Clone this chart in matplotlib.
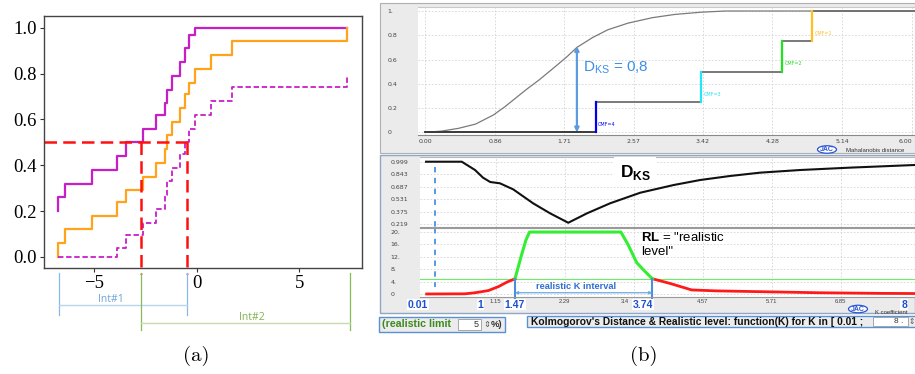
import matplotlib
matplotlib.use("Agg")
import matplotlib.pyplot as plt
from matplotlib.patches import Rectangle, Ellipse

plt.rcParams['mathtext.fontset'] = 'custom'
plt.rcParams['mathtext.rm'] = 'Liberation Sans'
plt.rcParams['mathtext.bf'] = 'Liberation Sans:bold'
plt.rcParams['axes.unicode_minus'] = True

# ---------------- data: panel (a) ----------------
a_steps_x = [-6.76, -6.44, -5.14, -3.89, -3.46, -2.65, -2.02, -1.58, -1.48,
             -1.22, -0.81, -0.57, -0.39, -0.11, 0.68, 1.72]
a_x_end = 7.32
orange_vals = [0.06, 0.12, 0.18, 0.24, 0.29, 0.35, 0.41, 0.47, 0.53, 0.59,
               0.65, 0.71, 0.76, 0.82, 0.88, 0.94]
orange_start, orange_end = 0.0, 1.0
upper_vals = [0.26, 0.32, 0.38, 0.44, 0.50, 0.56, 0.62, 0.67, 0.73, 0.79,
              0.85, 0.91, 0.97, 1.0, 1.0, 1.0]
upper_start, upper_end = 0.20, 1.0
lower_vals = [0.0, 0.0, 0.0, 0.04, 0.095, 0.15, 0.21, 0.27, 0.33, 0.39,
              0.45, 0.50, 0.56, 0.62, 0.68, 0.74]
lower_start, lower_end = 0.0, 0.79
median_level = 0.5
median_x = [-2.72, -0.5]
int1 = [-6.72, -0.5]
int2 = [-2.72, 7.46]
a_xticks = [-5, 0, 5]
a_yticks = [0.0, 0.2, 0.4, 0.6, 0.8, 1.0]

# ---------------- data: panel (b) top ----------------
mah_x = [0.0, 0.2, 0.41, 0.62, 0.84, 0.98, 1.11, 1.25, 1.40, 1.60, 1.75, 1.87,
         2.06, 2.25, 2.50, 2.80, 3.08, 3.40, 3.70, 6.05]
mah_y = [0.0, 0.01, 0.033, 0.068, 0.143, 0.21, 0.28, 0.355, 0.43, 0.54, 0.625,
         0.70, 0.78, 0.845, 0.90, 0.945, 0.972, 0.99, 1.0, 1.0]
cmf_x = [2.10, 3.40, 4.40, 4.77]
cmf_levels = [0.0, 0.25, 0.50, 0.75, 1.0]
cmf_labels = ["CMF=4", "CMF=3", "CMF=2", "CMF=1"]
cmf_colors = ["#0000ee", "#22e5f5", "#22e022", "#ffc020"]
dks_arrow_x = 1.87
dks_arrow_top = 0.71
top_xticks = [0.00, 0.86, 1.71, 2.57, 3.42, 4.28, 5.14, 6.00]
top_yticks = [0, 0.2, 0.4, 0.6, 0.8, 1.0]
top_ylabels = ["0", "0.2", "0.4", "0.6", "0.8", "1."]

# ---------------- data: panel (b) D_KS(K) ----------------
ks_k = [0.0, 0.59, 0.81, 0.94, 1.06, 1.22, 1.44, 1.77, 2.05, 2.35, 2.66, 3.04,
        3.54, 4.09, 4.53, 5.02, 5.52, 6.18, 7.01, 8.08]
ks_v = [0.999, 0.999, 0.895, 0.80, 0.745, 0.729, 0.653, 0.478, 0.353, 0.235,
        0.353, 0.478, 0.611, 0.707, 0.77, 0.82, 0.862, 0.895, 0.925, 0.958]
mid_yticks = [0.219, 0.375, 0.531, 0.687, 0.843, 0.999]

# ---------------- data: panel (b) RL(K) ----------------
red_left_k = [0.01, 0.64, 0.81, 1.03, 1.20, 1.33, 1.47]
red_left_v = [0.1, 0.15, 0.5, 1.2, 2.5, 3.85, 5.0]
green_k = [1.47, 1.57, 1.65, 1.71, 3.22, 3.34, 3.48, 3.62, 3.74]
green_v = [5.0, 12.1, 17.4, 20.0, 20.0, 15.9, 10.2, 7.3, 5.0]
red_right_k = [3.74, 4.03, 4.39, 4.8, 5.5, 6.5, 7.5, 8.08]
red_right_v = [5.0, 3.5, 1.4, 1.1, 0.85, 0.5, 0.3, 0.25]
realistic_limit = 5
k_interval = [1.47, 3.74]
k_marker = 0.15
bot_yticks = [0, 4, 8, 12, 16, 20]
bot_ylabels = ["0", "4.", "8.", "12.", "16.", "20."]
k_bold_ticks = [0.01, 1, 1.47, 3.74, 8]
k_bold_labels = ["0.01", "1", "1.47", "3.74", "8"]
k_small_ticks = [1.15, 2.29, 3.4, 4.57, 5.71, 6.85]
k_small_labels = ["1.15", "2.29", "3.4", "4.57", "5.71", "6.85"]
k_grid = [1.15, 2.29, 3.43, 4.57, 5.71, 6.85]

# ---------------- figure ----------------
W, H = 915, 374
fig = plt.figure(figsize=(W / 100, H / 100), dpi=100)


def ax_px(x0, y0, x1, y1, **kw):
    return fig.add_axes([x0 / W, 1 - y1 / H, (x1 - x0) / W, (y1 - y0) / H], **kw)


def step_xy(xs, start, vals, x_end, end):
    X = [xs[0]] + list(xs) + [x_end, x_end]
    Y = [start] + list(vals) + [vals[-1], end]
    return X, Y


# background overlay (pixel coords)
bg = fig.add_axes([0, 0, 1, 1], zorder=-5)
bg.set_xlim(0, W); bg.set_ylim(H, 0); bg.axis('off')
bg.add_patch(Rectangle((380, 3), 535, 150, facecolor="#ebebeb", edgecolor="#b0b0b0", lw=0.8))
bg.add_patch(Rectangle((380, 155), 535, 158, facecolor="#ebebeb", edgecolor="#8fa6c4", lw=1.0))

# ================= panel (a) =================
axa = ax_px(44, 16, 362, 268)
axa.set_xlim(-7.46, 8.05)
axa.set_ylim(-0.048, 1.051)
pc = "#c81ec8"
oc = "#ffa31a"
X, Y = step_xy(a_steps_x, upper_start, upper_vals, a_x_end, upper_end)
axa.step(X, Y, where='post', color=pc, lw=1.6)
X, Y = step_xy(a_steps_x, orange_start, orange_vals, a_x_end, orange_end)
axa.step(X, Y, where='post', color=oc, lw=1.6)
X, Y = step_xy(a_steps_x, lower_start, lower_vals, a_x_end, lower_end)
axa.step(X, Y, where='post', color=pc, lw=1.3, dashes=(3, 1.5))
axa.plot([-7.46, median_x[1]], [median_level, median_level], color="#ff1010", lw=1.8, dashes=(5, 2.5))
for mx in median_x:
    axa.plot([mx, mx], [median_level, -0.075], color="#ff1010", lw=1.8, dashes=(5, 2.5), clip_on=False)
axa.set_xticks(a_xticks)
axa.set_yticks(a_yticks)
axa.set_yticklabels([f"{v:.1f}" for v in a_yticks])
axa.tick_params(labelsize=13.5, length=3, width=0.8, color="#333333", pad=2)
for lbl in axa.get_xticklabels() + axa.get_yticklabels():
    lbl.set_fontfamily("Liberation Serif")
for s in axa.spines.values():
    s.set_color("#444444"); s.set_linewidth(1.0)

tr = axa.get_xaxis_transform()


def fy(py):
    return (268 - py) / 252.0


c1 = "#8ab8e6"
c2 = "#86bb55"
for xv in int1:
    axa.plot([xv, xv], [fy(273), fy(315)], color=c1, lw=0.9, transform=tr, clip_on=False)
axa.plot(int1, [fy(305), fy(305)], color="#b9d4ef", lw=1.0, transform=tr, clip_on=False)
axa.text(sum(int1) / 2 - 0.6, fy(300), "Int#1", color="#6ea3d8", fontsize=7.5,
         family="Open Sans", ha='center', va='center', transform=tr)
for xv in int2:
    axa.plot([xv, xv], [fy(273), fy(330)], color=c2, lw=0.9, transform=tr, clip_on=False)
axa.plot(int2, [fy(323), fy(323)], color="#c4dcae", lw=1.0, transform=tr, clip_on=False)
axa.text(sum(int2) / 2 + 0.3, fy(317), "Int#2", color="#7fb24a", fontsize=7.5,
         family="Open Sans", ha='center', va='center', transform=tr)

# ================= panel (b) top =================
axt = ax_px(418, 7, 915, 135)
axt.set_xlim(-0.09, 6.04)
axt.set_ylim(-0.022, 1.033)
axt.plot(mah_x, mah_y, color="#7a7a7a", lw=0.9)
step_x = [0.0] + cmf_x + [6.05]
step_y = cmf_levels + [1.0]
axt.step(step_x, step_y, where='post', color="#6e6e6e", lw=1.3)
axt.plot([0.0, cmf_x[0]], [0, 0], color="#333333", lw=1.2)
for i, xv in enumerate(cmf_x):
    axt.plot([xv, xv], [cmf_levels[i], cmf_levels[i + 1]], color=cmf_colors[i], lw=1.6)
    axt.text(xv + 0.03, (cmf_levels[i] + cmf_levels[i + 1]) / 2 - 0.06, cmf_labels[i],
             color=cmf_colors[i], fontsize=3.5, va='center', ha='left')
axt.annotate("", xy=(dks_arrow_x, dks_arrow_top), xytext=(dks_arrow_x, 0.0),
             arrowprops=dict(arrowstyle="<|-|>", color="#5b9be0", lw=1.6,
                             mutation_scale=6, shrinkA=0, shrinkB=0))
axt.text(1.95, 0.53, r"$\mathrm{D}_{\mathrm{KS}}$ = 0,8", color="#3a8ee8", fontsize=11,
         family="Liberation Sans", ha='left', va='center')
axt.set_xticks(top_xticks)
axt.set_xticklabels([f"{v:.2f}" for v in top_xticks])
axt.set_yticks(top_yticks)
axt.set_yticklabels(top_ylabels)
axt.grid(True, color="#d4d4d4", lw=0.6, ls=(0, (2, 2)))
axt.tick_params(length=0, labelsize=4.5, labelcolor="#444444")
axt.tick_params(axis='x', pad=3)
axt.tick_params(axis='y', pad=22)
for lbl in axt.get_yticklabels():
    lbl.set_ha('left')
axt.get_xticklabels()[-1].set_ha('right')
for k in ['left', 'right']:
    axt.spines[k].set_visible(False)
axt.spines['top'].set_color("#c8c8c8")
axt.spines['bottom'].set_color("#8a8a8a")

# ================= panel (b) middle =================
K_LO, K_HI = -0.1, 8.08
axm = ax_px(420, 157, 915, 227.3)
axm.set_xlim(K_LO, K_HI)
axm.set_ylim(0.178, 1.058)
axm.plot(ks_k, ks_v, color="#111111", lw=1.5)
axm.plot([k_marker, k_marker], [0.93, 0.178], color="#4a90e2", lw=1.3, dashes=(3, 3))
axm.set_yticks(mid_yticks)
axm.set_yticklabels([f"{v:.3f}" for v in mid_yticks])
axm.set_xticks(k_grid)
axm.set_xticklabels([])
axm.grid(True, color="#d4d4d4", lw=0.6, ls=(0, (2, 2)))
axm.tick_params(length=0, labelsize=4.5, labelcolor="#444444")
axm.tick_params(axis='y', pad=21)
for lbl in axm.get_yticklabels():
    lbl.set_ha('left')
for k in ['left', 'right']:
    axm.spines[k].set_visible(False)
axm.spines['top'].set_color("#b8b8b8")
axm.spines['bottom'].set_color("#9a9a9a")
axm.text(3.2, 0.87, r"$\mathbf{D}_{\mathbf{KS}}$", fontsize=12.5, color="black",
         ha='left', va='center',
         bbox=dict(facecolor='white', edgecolor='none', pad=4))

# ================= panel (b) bottom =================
axb = ax_px(420, 228, 915, 296.7)
axb.set_xlim(K_LO, K_HI)
axb.set_ylim(-0.77, 21.3)
axb.axhline(realistic_limit, color="#66ee66", lw=0.8)
axb.plot(red_left_k, red_left_v, color="#ff1a1a", lw=2)
axb.plot(red_right_k, red_right_v, color="#ff1a1a", lw=2)
axb.plot(green_k, green_v, color="#33ee33", lw=2.2)
axb.plot([k_marker, k_marker], [21.3, 2.4], color="#4a90e2", lw=1.3, dashes=(3, 3))
for kv in k_interval:
    axb.plot([kv, kv], [realistic_limit, -2.2], color="#4a8fd8", lw=1.5, clip_on=False)
axb.annotate("", xy=(k_interval[1], 0.5), xytext=(k_interval[0], 0.5),
             arrowprops=dict(arrowstyle="<|-|>", color="#6aa8e8", lw=0.9,
                             mutation_scale=4, shrinkA=0, shrinkB=0))
axb.text(2.48, 2.5, "realistic K interval", color="#2f6fd0", fontsize=6.7,
         fontweight='bold', family="Liberation Sans", ha='center', va='center')
axb.text(3.55, 18.1, r'$\mathbf{RL}$ = "realistic', fontsize=9.5, family="Liberation Sans",
         ha='left', va='center')
axb.text(3.55, 13.5, 'level"', fontsize=9.5, family="Liberation Sans",
         ha='left', va='center')
axb.set_yticks(bot_yticks)
axb.set_yticklabels(bot_ylabels)
axb.set_xticks(k_grid)
axb.set_xticklabels([])
axb.grid(True, color="#d4d4d4", lw=0.6, ls=(0, (2, 2)))
axb.tick_params(length=0, labelsize=4.5, labelcolor="#444444")
axb.tick_params(axis='y', pad=21)
for lbl in axb.get_yticklabels():
    lbl.set_ha('left')
for k in ['left', 'right']:
    axb.spines[k].set_visible(False)
axb.spines['top'].set_color("#9a9a9a")
axb.spines['bottom'].set_color("#9a9a9a")

trb = axb.get_xaxis_transform()


def fb(py):
    return (296.7 - py) / 68.7


k_small_shift = [0.0, 0.0, -0.12, 0.0, 0.0, 0.0]
for kv, lab, sh in zip(k_small_ticks, k_small_labels, k_small_shift):
    axb.text(kv + sh, fb(301.5), lab, transform=trb, color="#444444", fontsize=4.2,
             family="Liberation Sans", ha='center', va='center', clip_on=False)
bold_shift = [-0.14, -0.1, 0.0, -0.15, -0.1]
for kv, lab, sh in zip(k_bold_ticks, k_bold_labels, bold_shift):
    axb.text(kv + sh, fb(304.5), lab, transform=trb, color="#1d4fd0", fontsize=7.5,
             fontweight='bold', family="Liberation Sans", ha='center', va='center',
             bbox=dict(facecolor='white', edgecolor='none', pad=0.6), clip_on=False)

# ================= overlay (pixel coords) =================
ov = fig.add_axes([0, 0, 1, 1], zorder=30)
ov.set_xlim(0, W); ov.set_ylim(H, 0); ov.axis('off')
ov.patch.set_alpha(0)


def jac(x, y):
    ov.add_patch(Ellipse((x, y), 19, 7.5, facecolor='white', edgecolor="#2a55d8", lw=0.9))
    ov.text(x, y + 0.3, "JAC", color="#2a55d8", fontsize=5, fontweight='bold',
            family="Liberation Sans", ha='center', va='center')


jac(827, 149.5)
ov.text(846, 150, "Mahalanobis distance", fontsize=4.3, color="#333333",
        family="Liberation Sans", ha='left', va='center')
jac(858, 309)
ov.text(875, 312, "K coefficient", fontsize=4.3, color="#333333",
        family="Liberation Sans", ha='left', va='center')

# control row
ov.add_patch(Rectangle((379, 316.5), 126, 15, facecolor="#ececec", edgecolor="#5b8fd6", lw=1.0))
ov.text(382.5, 324.3, "(realistic limit", color="#3d8a1e", fontsize=7.7, fontweight='bold',
        family="Liberation Sans", ha='left', va='center')
ov.add_patch(Rectangle((458, 318.5), 23, 11, facecolor="white", edgecolor="#9a9a9a", lw=0.6))
ov.text(479, 324.2, "5", color="#333333", fontsize=6.5, family="Liberation Sans",
        ha='right', va='center')
ov.text(486.5, 324.2, "\u21d5", color="#555555", fontsize=6, family="DejaVu Sans",
        ha='center', va='center')
ov.text(490.5, 324.3, "%)", color="#333333", fontsize=6.8, fontweight='bold',
        family="Liberation Sans", ha='left', va='center')

ov.add_patch(Rectangle((527, 316.2), 390, 10.8, facecolor="#ececec", edgecolor="#5b8fd6", lw=1.0))
ov.text(531, 321.6, "Kolmogorov's Distance & Realistic level: function(K) for K in [ 0.01 ;",
        color="#111111", fontsize=7.4, fontweight='bold', family="Liberation Sans",
        ha='left', va='center')
ov.add_patch(Rectangle((873, 317.2), 35, 9, facecolor="white", edgecolor="#9a9a9a", lw=0.6))
ov.text(903, 321.6, "8 .", color="#333333", fontsize=6, family="Liberation Sans",
        ha='right', va='center')
ov.text(912, 321.6, "\u21d5", color="#555555", fontsize=5.5, family="DejaVu Sans",
        ha='center', va='center')

# captions
ov.text(196, 356, "(a)", fontsize=15, family="cmr10", ha='center', va='center')
ov.text(644, 356, "(b)", fontsize=15, family="cmr10", ha='center', va='center')

fig.savefig("out.png", dpi=100)
